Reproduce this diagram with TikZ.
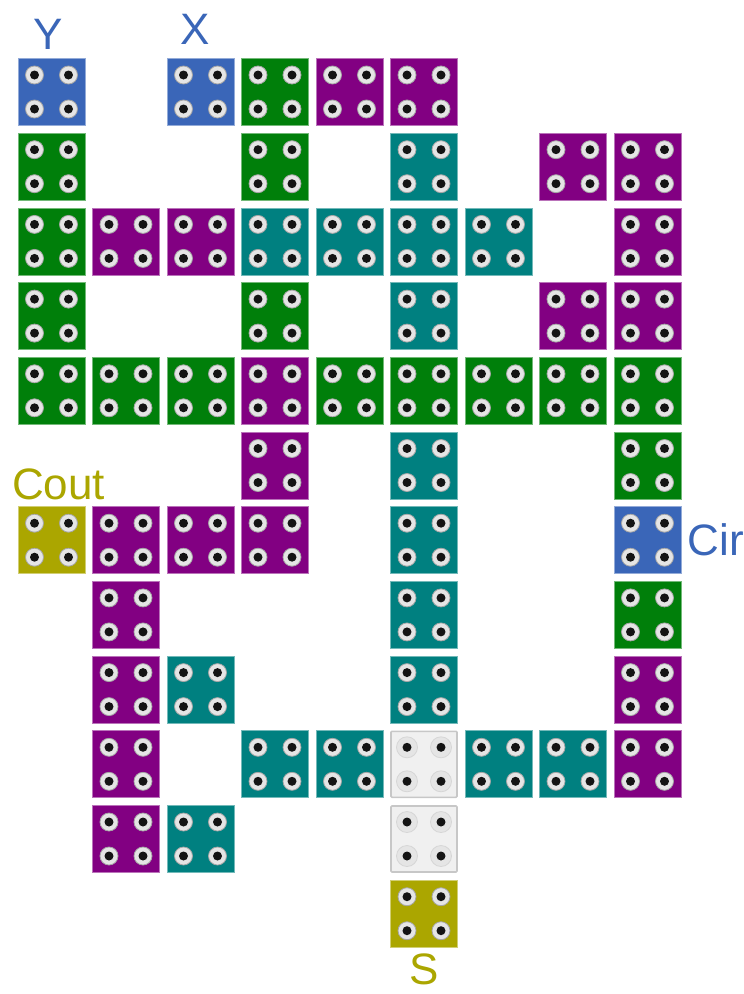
\documentclass[tikz,border=0pt]{standalone}
\usepackage{fontspec}
\setmainfont{Liberation Sans}
\usetikzlibrary{
  positioning
}
\definecolor{inBlue}{HTML}{3A66B8}
\definecolor{wireGreen}{HTML}{007F0A}
\definecolor{gatePurple}{HTML}{820082}
\definecolor{crossTeal}{HTML}{008080}
\definecolor{outOlive}{HTML}{ABA600}
\definecolor{emptyFill}{HTML}{F0F0F0}
\definecolor{holeDark}{HTML}{141414}
\tikzset{
  cellbox/.style={
    draw=#1!55!white,
    fill=#1,
    line width=0.8pt,
    minimum size=67pt,
    inner sep=0pt
  },
  emptybox/.style={
    draw=black!22,
    fill=emptyFill,
    line width=1.6pt,
    rounded corners=1pt,
    minimum size=66pt,
    inner sep=0pt
  },
  ring/.style={
    circle,
    draw=black!35,
    fill=white!90!black,
    line width=0.8pt,
    minimum size=18pt,
    inner sep=0pt
  },
  emptyring/.style={
    ring,
    draw=black!16,
    fill=black!10,
    minimum size=21pt
  },
  drill/.style={
    circle,
    fill=holeDark,
    minimum size=9pt,
    inner sep=0pt
  },
  pinlabel/.style={
    text=#1,
    font=\fontsize{44}{44}\selectfont,
    inner sep=0pt
  }
}

\begin{document}
\begin{tikzpicture}[x=74.5pt,y=-74.7pt]

\useasboundingbox (-51.5pt,92pt) rectangle (692.5pt,-902pt);

% --- Coloured cells ---
\foreach \col/\row/\tone in {
  0/0/inBlue, 2/0/inBlue, 3/0/wireGreen, 4/0/gatePurple, 5/0/gatePurple,
  0/1/wireGreen, 3/1/wireGreen, 5/1/crossTeal, 7/1/gatePurple, 8/1/gatePurple,
  0/2/wireGreen, 1/2/gatePurple, 2/2/gatePurple, 3/2/crossTeal, 4/2/crossTeal,
  5/2/crossTeal, 6/2/crossTeal, 8/2/gatePurple,
  0/3/wireGreen, 3/3/wireGreen, 5/3/crossTeal, 7/3/gatePurple, 8/3/gatePurple,
  0/4/wireGreen, 1/4/wireGreen, 2/4/wireGreen, 3/4/gatePurple, 4/4/wireGreen,
  5/4/wireGreen, 6/4/wireGreen, 7/4/wireGreen, 8/4/wireGreen,
  3/5/gatePurple, 5/5/crossTeal, 8/5/wireGreen,
  0/6/outOlive, 1/6/gatePurple, 2/6/gatePurple, 3/6/gatePurple, 5/6/crossTeal, 8/6/inBlue,
  1/7/gatePurple, 5/7/crossTeal, 8/7/wireGreen,
  1/8/gatePurple, 2/8/crossTeal, 5/8/crossTeal, 8/8/gatePurple,
  1/9/gatePurple, 3/9/crossTeal, 4/9/crossTeal, 6/9/crossTeal, 7/9/crossTeal, 8/9/gatePurple,
  1/10/gatePurple, 2/10/crossTeal,
  5/11/outOlive}{
  \node[cellbox=\tone] (cell-\col-\row) at (\col,\row) {};
  \foreach \dx in {-17,17}
    \foreach \dy in {-17,17} {
      \node[ring] at ([shift={(\dx pt,\dy pt)}]cell-\col-\row.center) {};
      \node[drill] at ([shift={(\dx pt,\dy pt)}]cell-\col-\row.center) {};
    }
}

% --- Empty cells ---
\foreach \col/\row in {5/9, 5/10}{
  \node[emptybox] (cell-\col-\row) at (\col,\row) {};
  \foreach \dx in {-17,17}
    \foreach \dy in {-17,17} {
      \node[emptyring] at ([shift={(\dx pt,\dy pt)}]cell-\col-\row.center) {};
      \node[drill] at ([shift={(\dx pt,\dy pt)}]cell-\col-\row.center) {};
    }
}

% --- Pin names ---
\node[pinlabel=inBlue, above=8pt of cell-0-0, xshift=-3pt] (pinY) {Y};
\node[pinlabel=inBlue, above=13pt of cell-2-0, xshift=-5pt] (pinX) {X};
\node[pinlabel=outOlive, above=6pt of cell-0-6, xshift=7pt] (pinCout) {Cout};
\node[pinlabel=inBlue, right=6pt of cell-8-6] (pinCir) {Cir};
\node[pinlabel=outOlive, below=6pt of cell-5-11] (pinS) {S};

\end{tikzpicture}
\end{document}
